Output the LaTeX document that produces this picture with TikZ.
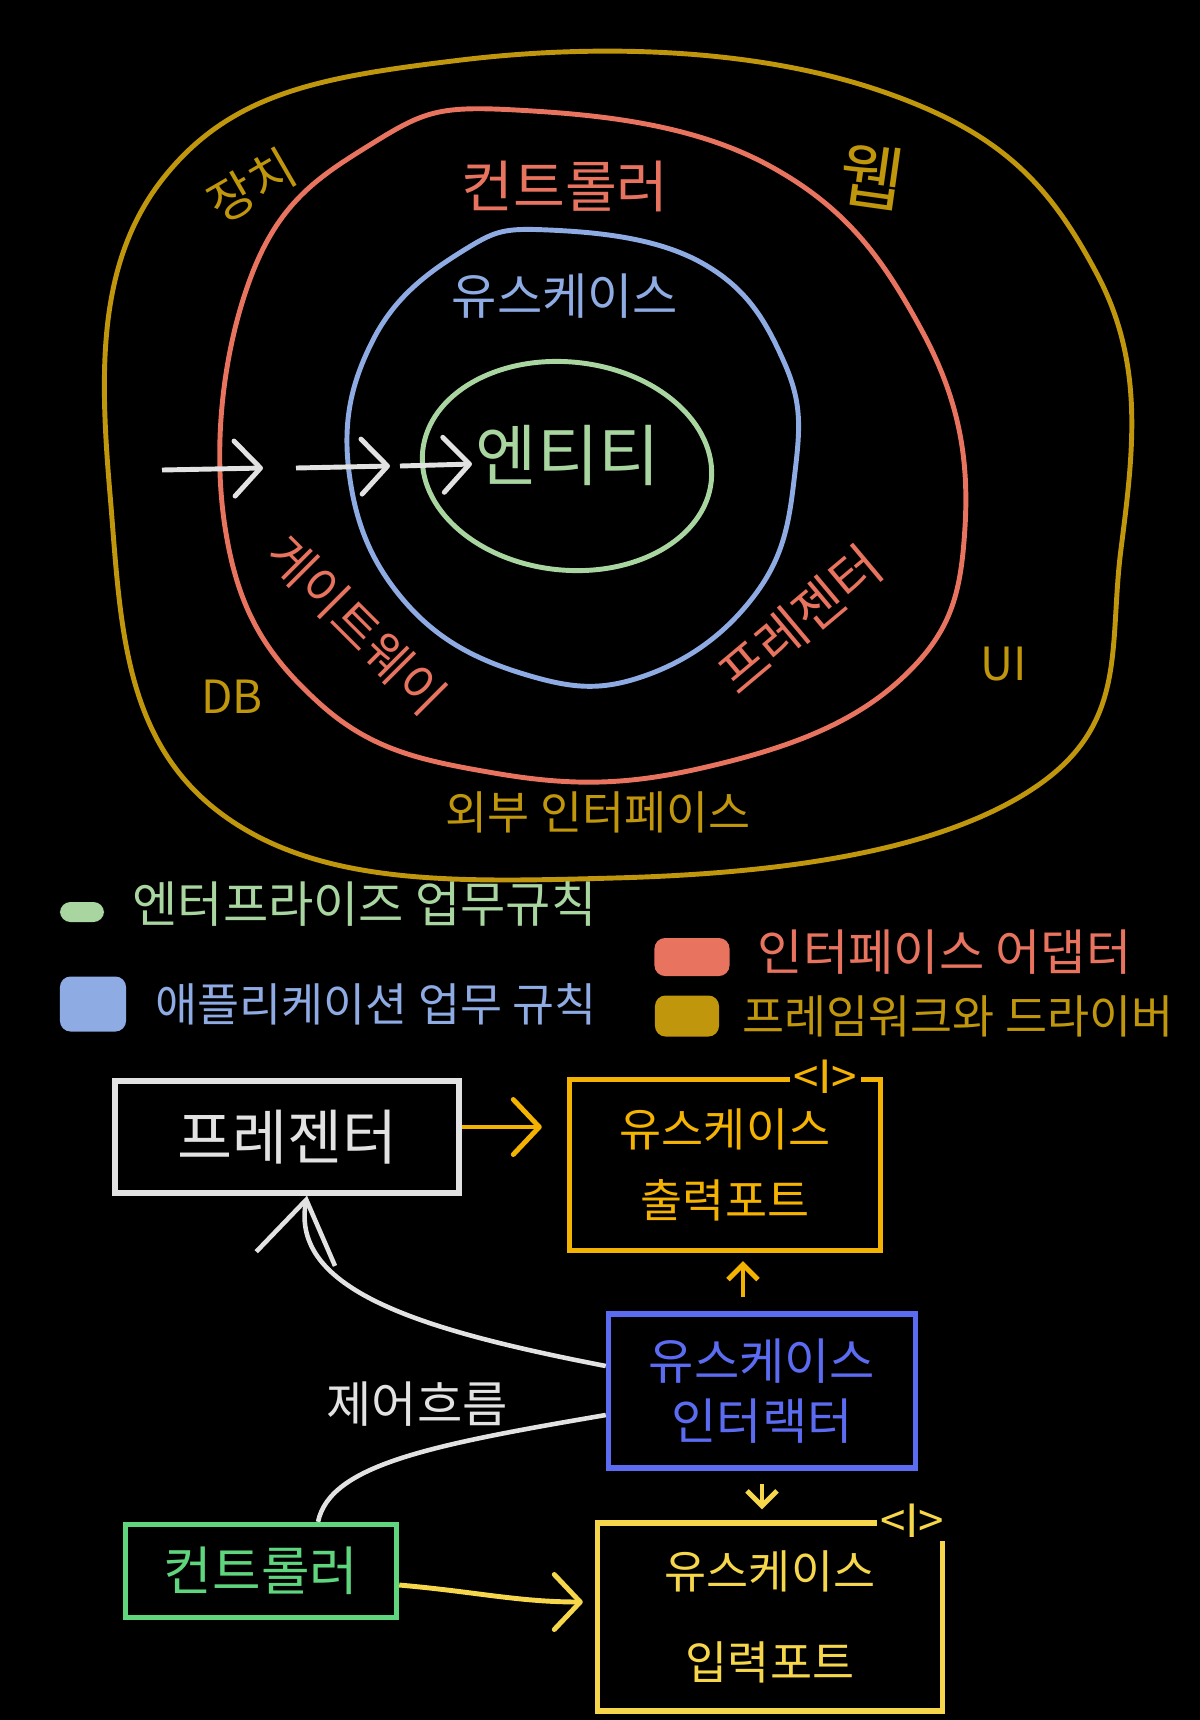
\documentclass[tikz,border=0pt]{standalone}
\usepackage{fontspec}
\setmainfont{Noto Sans CJK KR}
\usetikzlibrary{arrows.meta,positioning,calc}
\definecolor{caGold}{HTML}{BF960C}
\definecolor{caRed}{HTML}{E8735F}
\definecolor{caBlue}{HTML}{8EABE3}
\definecolor{caGreen}{HTML}{A9D6A0}
\definecolor{caWhite}{HTML}{E2E2E2}
\definecolor{caOrange}{HTML}{F5B301}
\definecolor{caIndigo}{HTML}{5C6CF2}
\definecolor{caLime}{HTML}{5FD67E}
\definecolor{caYellow}{HTML}{F6D74B}
\newcommand{\fs}[1]{\fontsize{#1}{#1}\selectfont}
\tikzset{
  ring/.style={line width=1.4pt, line join=round},
  lbl/.style={inner sep=0pt, font=\fs{14}},
  box/.style={draw, line width=1.5pt, inner sep=3pt, align=center},
  iface/.style={fill=black, inner sep=1pt, font=\fs{13}},
  swatch/.style={rounded corners=3pt, inner sep=0pt},
  legend/.style={inner sep=0pt, anchor=west, font=\fs{14}},
  arr/.style={-{Straight Barb[length=2.6mm, width=5.5mm, line width=1.4pt, round]}, line width=1.4pt},
  arrS/.style={-{Straight Barb[length=1.5mm, width=3mm]}, line width=1.4pt},
  flow/.style={draw=caWhite, line width=1.3pt},
}
\begin{document}
\begin{tikzpicture}[x=0.01cm, y=-0.01cm]
  \fill[black] (0,0) rectangle (1200,1720);
  \useasboundingbox (0,0) rectangle (1200,1720);

  % rings
  \draw[ring, caGold] plot[smooth cycle, tension=0.7] coordinates
    {(461,60) (878,90) (1097,274) (1121,549) (1031,790) (614,878) (219,812) (110,494) (165,176)};
  \draw[ring, caRed] plot[smooth cycle, tension=0.7] coordinates
    {(516,110) (768,165) (921,329) (965,527) (900,680) (702,768) (494,773) (318,702) (225,527) (252,274) (373,143)};
  \draw[ring, caBlue] plot[smooth cycle, tension=0.7] coordinates
    {(549,230) (702,263) (784,362) (795,472) (757,592) (647,675) (527,675) (406,603) (349,472) (373,340) (461,252)};
  \draw[ring, caGreen, rotate around={-6:(567,466)}] (567,466) ellipse [x radius=1.45cm, y radius=1.04cm];

  % ring labels
  \node[lbl, text=caGold, rotate=30] (device) at (252,186) {장치};
  \node[lbl, text=caGold, font=\fs{20}, rotate=-8] (web) at (872,176) {웹};
  \node[lbl, text=caGold, font=\fs{13}] (db) at (232,697) {DB};
  \node[lbl, text=caGold, font=\fs{13}] (ui) at (1004,664) {UI};
  \node[lbl, text=caGold, font=\fs{13}] (extif) at (598,812) {외부 인터페이스};
  \node[lbl, text=caRed, font=\fs{16}] (ctrlR) at (565,186) {컨트롤러};
  \node[lbl, text=caRed, rotate=-45] (gateway) at (357,625) {게이트웨이};
  \node[lbl, text=caRed, font=\fs{15}, rotate=40] (presR) at (800,620) {프레젠터};
  \node[lbl, text=caBlue] (usecaseR) at (565,296) {유스케이스};
  \node[lbl, text=caGreen, font=\fs{19}] (entity) at (568,455) {엔티티};

  % dependency arrows
  \coordinate (d0) at (162,470);
  \coordinate (d1) at (263,468);
  \coordinate (d2) at (296,468);
  \coordinate (d3) at (390,466);
  \coordinate (d4) at (400,466);
  \coordinate (d5) at (472,464);
  \draw[arr, caWhite] (d0) -- (d1);
  \draw[arr, caWhite] (d2) -- (d3);
  \draw[arr, caWhite] (d4) -- (d5);

  % legend
  \node[swatch, fill=caGreen, minimum width=0.44cm, minimum height=0.2cm] (swG) at (82,912) {};
  \node[legend, text=caGreen, right=0.27cm of swG, yshift=0.08cm] (legG) {엔터프라이즈 업무규칙};
  \node[swatch, fill=caBlue, minimum width=0.66cm, minimum height=0.55cm] (swB) at (93,1004) {};
  \node[legend, text=caBlue, font=\fs{13}, right=0.28cm of swB] (legB) {애플리케이션 업무 규칙};
  \node[swatch, fill=caRed, minimum width=0.75cm, minimum height=0.38cm] (swR) at (692,957) {};
  \node[legend, text=caRed, right=0.27cm of swR, yshift=0.05cm] (legR) {인터페이스 어댑터};
  \node[swatch, fill=caGold, minimum width=0.64cm, minimum height=0.41cm] (swY) at (687,1016) {};
  \node[legend, text=caGold, font=\fs{13}, right=0.22cm of swY] (legY) {프레임워크와 드라이버};

  % boxes
  \node[box, draw=caWhite, text=caWhite, font=\fs{17}, minimum width=3.44cm, minimum height=1.12cm] (presenter) at (287,1137) {프레젠터};
  \node[box, draw=caOrange, text=caOrange, font=\fs{13}, minimum width=3.11cm, minimum height=1.71cm] (outport) at (725,1165) {유스케이스\\[0.25cm]출력포트};
  \node[iface, text=caOrange] (outI) at ([xshift=-0.58cm]outport.north east) {<I>};
  \node[box, draw=caIndigo, text=caIndigo, font=\fs{14}, minimum width=3.07cm, minimum height=1.54cm] (interactor) at (762,1391) {유스케이스\\[0.1cm]인터랙터};
  \node[box, draw=caLime, text=caLime, font=\fs{15}, minimum width=2.71cm, minimum height=0.93cm] (controller) at (261,1571) {컨트롤러};
  \node[box, draw=caYellow, text=caYellow, font=\fs{13}, minimum width=3.45cm, minimum height=1.88cm] (inport) at (770,1617) {유스케이스\\[0.45cm]입력포트};
  \node[iface, text=caYellow] (inI) at ([xshift=-0.33cm]inport.north east) {<I>};
  \node[lbl, text=caWhite] (flowlbl) at (417,1404) {제어흐름};

  % connectors
  \draw[arr, caOrange, shorten >=0.25cm] ([yshift=0.1cm]presenter.east) -- ([yshift=0.1cm]outport.west |- presenter.east);
  \draw[arrS, caOrange, shorten <=0.14cm, shorten >=0.08cm] ([xshift=-0.19cm]interactor.north) -- ([xshift=-0.19cm]interactor.north |- outport.south);
  \draw[arrS, caYellow, shorten <=0.13cm, shorten >=0.11cm] (interactor.south) -- (interactor.south |- inport.north);
  \draw[arr, caYellow, shorten >=0.12cm] ([yshift=-0.14cm]controller.east) to[out=-5, in=180] ([yshift=0.15cm]inport.west);
  \draw[flow, -{Straight Barb[length=6mm, width=8mm]}] ([yshift=0.25cm]interactor.west) .. controls (420,1330) and (290,1290) .. ([xshift=0.2cm]presenter.south);
  \draw[flow] ([yshift=-0.24cm]interactor.west) .. controls (430,1445) and (330,1465) .. ([xshift=0.57cm]controller.north);
\end{tikzpicture}
\end{document}
